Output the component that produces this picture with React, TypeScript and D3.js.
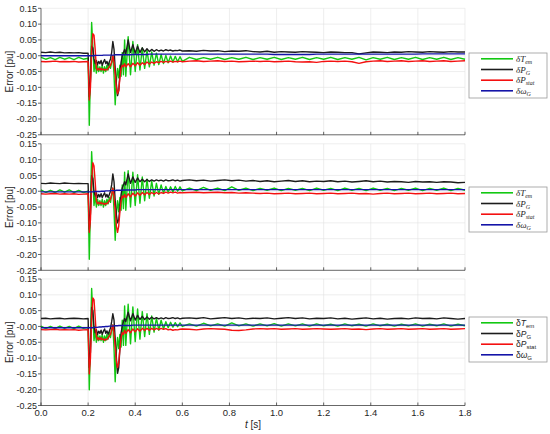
import React from "react";
import * as d3 from "d3";

// time base [s], shared by every trace
const T = [
  0, 0.02, 0.04, 0.06, 0.08, 0.1, 0.12, 0.14, 0.16, 0.18, 0.2,
  0.205, 0.21, 0.215, 0.22, 0.225, 0.23, 0.235, 0.24, 0.245, 0.25,
  0.255, 0.26, 0.265, 0.27, 0.275, 0.28, 0.285, 0.29, 0.295, 0.3,
  0.305, 0.31, 0.315, 0.32, 0.325, 0.33, 0.335, 0.34, 0.345, 0.35, 0.355, 0.36,
  0.37, 0.38, 0.39, 0.4, 0.41, 0.42, 0.43, 0.44, 0.45, 0.46, 0.47, 0.48, 0.49, 0.5,
  0.51, 0.52, 0.53, 0.54, 0.55, 0.56, 0.57, 0.58, 0.59, 0.6,
  0.63, 0.66, 0.69, 0.72, 0.75, 0.78, 0.81, 0.84, 0.87, 0.9,
  0.93, 0.96, 0.99, 1.02, 1.05, 1.08, 1.11, 1.14, 1.17, 1.2,
  1.23, 1.26, 1.29, 1.32, 1.35, 1.38, 1.41, 1.44, 1.47, 1.5,
  1.53, 1.56, 1.59, 1.62, 1.65, 1.68, 1.71, 1.74, 1.77, 1.8,
];

// ---- panel 1
const tem1 = [
  -0.005, -0.011, -0.006, -0.012, -0.005, -0.011, -0.006, -0.012, -0.005, -0.011, -0.008,
  -0.22, -0.06, 0.105, 0.03, -0.05, -0.02, -0.055, -0.03, -0.05, -0.035,
  -0.05, -0.03, -0.055, -0.035, -0.05, -0.03, -0.045, -0.025, -0.04, -0.02,
  0.0, -0.06, -0.155, -0.08, -0.04, -0.07, -0.03, -0.065, 0.01, -0.06, 0.05, -0.065,
  0.06, -0.06, 0.045, -0.05, 0.035, -0.045, 0.025, -0.04, 0.018, -0.035, 0.012, -0.03, 0.008, -0.028,
  0.004, -0.025, 0.001, -0.022, -0.001, -0.02, -0.002, -0.019, -0.003, -0.018,
  -0.005, -0.012, -0.006, -0.011, -0.005, -0.012, -0.006, -0.011, -0.005, -0.012,
  -0.006, -0.011, -0.005, -0.012, -0.006, -0.011, -0.005, -0.012, -0.006, -0.011,
  -0.005, -0.012, -0.006, -0.011, -0.005, -0.013, -0.006, -0.011, -0.005, -0.012,
  -0.006, -0.011, -0.005, -0.012, -0.006, -0.011, -0.005, -0.012, -0.006, -0.011,
];
const pg1 = [
  0.011, 0.01, 0.012, 0.01, 0.011, 0.009, 0.01, 0.009, 0.01, 0.008, 0.008,
  -0.13, -0.08, 0.03, 0.025, -0.01, -0.025, -0.015, -0.028, -0.018, -0.025,
  -0.015, -0.03, -0.02, -0.012, -0.025, -0.018, -0.03, -0.02, -0.01, 0.01,
  0.045, 0.02, -0.04, -0.09, -0.126, -0.11, -0.06, -0.02, 0.0, 0.01, 0.02, 0.005,
  0.05, 0.01, 0.035, 0.008, 0.03, 0.01, 0.025, 0.012, 0.022, 0.013, 0.02, 0.014, 0.019, 0.015,
  0.018, 0.015, 0.019, 0.016, 0.018, 0.015, 0.017, 0.016, 0.018, 0.015,
  0.016, 0.014, 0.017, 0.015, 0.016, 0.013, 0.015, 0.014, 0.016, 0.013,
  0.012, 0.014, 0.011, 0.013, 0.012, 0.011, 0.013, 0.012, 0.011, 0.01,
  0.012, 0.011, 0.01, 0.01, 0.006, 0.009, 0.012, 0.011, 0.01, 0.012,
  0.011, 0.013, 0.012, 0.011, 0.013, 0.012, 0.011, 0.013, 0.012, 0.012,
];
const pstat1 = [
  -0.018, -0.019, -0.018, -0.017, -0.019, -0.018, -0.019, -0.018, -0.02, -0.019, -0.018,
  -0.14, -0.1, 0.02, 0.07, 0.065, 0.02, -0.04, -0.045, -0.04, -0.045,
  -0.04, -0.045, -0.042, -0.046, -0.043, -0.045, -0.04, -0.035, -0.03, -0.02,
  0.0, -0.02, -0.06, -0.1, -0.12, -0.11, -0.07, -0.04, -0.03, -0.035, -0.025, -0.035,
  -0.025, -0.035, -0.024, -0.032, -0.022, -0.03, -0.022, -0.028, -0.02, -0.026, -0.02, -0.024, -0.019, -0.022,
  -0.018, -0.021, -0.018, -0.02, -0.017, -0.02, -0.018, -0.019, -0.017, -0.019,
  -0.017, -0.016, -0.018, -0.017, -0.016, -0.018, -0.017, -0.019, -0.018, -0.017,
  -0.018, -0.017, -0.019, -0.018, -0.017, -0.019, -0.02, -0.019, -0.021, -0.018,
  -0.017, -0.018, -0.017, -0.019, -0.024, -0.019, -0.017, -0.016, -0.018, -0.017,
  -0.016, -0.018, -0.017, -0.016, -0.018, -0.017, -0.016, -0.018, -0.017, -0.016,
];
const wg1 = [
  0, 0, 0, 0, 0, 0, 0, 0, 0, 0, 0,
  0, 0, 0, 0, 0, 0.001, 0.001, 0.001, 0.001, 0.001,
  0.001, 0.001, 0.002, 0.002, 0.002, 0.002, 0.002, 0.002, 0.002, 0.002,
  0.002, 0.002, 0.003, 0.003, 0.003, 0.003, 0.003, 0.003, 0.003, 0.003, 0.003, 0.003,
  0.003, 0.003, 0.004, 0.004, 0.004, 0.004, 0.004, 0.004, 0.004, 0.005, 0.005, 0.005, 0.005, 0.005,
  0.005, 0.005, 0.005, 0.005, 0.005, 0.005, 0.005, 0.005, 0.005, 0.005,
  0.005, 0.005, 0.005, 0.005, 0.005, 0.005, 0.005, 0.005, 0.005, 0.005,
  0.005, 0.005, 0.004, 0.004, 0.004, 0.004, 0.004, 0.004, 0.005, 0.005,
  0.005, 0.005, 0.005, 0.005, 0.005, 0.005, 0.005, 0.005, 0.005, 0.005,
  0.005, 0.005, 0.005, 0.006, 0.006, 0.006, 0.006, 0.006, 0.006, 0.006,
];

// ---- panel 2
const tem2 = [
  0.004, -0.004, 0.003, -0.004, 0.004, -0.003, 0.004, -0.004, 0.003, -0.004, 0.0,
  -0.215, -0.05, 0.125, 0.04, -0.045, -0.015, -0.05, -0.025, -0.045, -0.03,
  -0.045, -0.025, -0.05, -0.03, -0.045, -0.025, -0.04, -0.02, -0.035, -0.01,
  0.01, -0.06, -0.155, -0.07, -0.03, -0.065, -0.02, -0.06, 0.02, -0.055, 0.06, -0.06,
  0.065, -0.05, 0.06, -0.045, 0.052, -0.038, 0.045, -0.03, 0.038, -0.022, 0.032, -0.015, 0.025, -0.01,
  0.02, -0.006, 0.015, -0.003, 0.014, -0.002, 0.015, 0.0, 0.014, 0.001,
  0.01, 0.002, 0.012, 0.003, 0.01, 0.002, 0.014, 0.003, 0.01, 0.002,
  0.009, 0.003, 0.01, 0.002, 0.009, 0.003, 0.009, 0.002, 0.01, 0.003,
  0.009, 0.002, 0.01, 0.003, 0.009, 0.002, 0.01, 0.003, 0.009, 0.002,
  0.009, 0.003, 0.01, 0.002, 0.009, 0.003, 0.01, 0.002, 0.009, 0.003,
];
const pg2 = [
  0.025, 0.024, 0.026, 0.025, 0.024, 0.026, 0.025, 0.024, 0.025, 0.024, 0.024,
  -0.12, -0.07, 0.05, 0.04, 0.0, -0.015, -0.005, -0.02, -0.01, -0.018,
  -0.008, -0.02, -0.012, -0.005, -0.018, -0.01, -0.02, -0.01, 0.0, 0.02,
  0.055, 0.03, -0.03, -0.075, -0.1, -0.09, -0.05, -0.01, 0.01, 0.02, 0.03, 0.02,
  0.055, 0.025, 0.045, 0.028, 0.042, 0.03, 0.038, 0.03, 0.037, 0.031, 0.036, 0.032, 0.036, 0.033,
  0.035, 0.032, 0.036, 0.033, 0.034, 0.036, 0.033, 0.035, 0.032, 0.034,
  0.036, 0.033, 0.035, 0.032, 0.034, 0.036, 0.033, 0.035, 0.032, 0.034,
  0.031, 0.033, 0.03, 0.032, 0.034, 0.031, 0.033, 0.03, 0.032, 0.031,
  0.033, 0.03, 0.032, 0.029, 0.031, 0.033, 0.03, 0.032, 0.029, 0.031,
  0.03, 0.028, 0.031, 0.029, 0.03, 0.028, 0.03, 0.029, 0.027, 0.028,
];
const pstat2 = [
  -0.008, -0.009, -0.008, -0.007, -0.009, -0.008, -0.009, -0.008, -0.01, -0.009, -0.008,
  -0.13, -0.09, 0.03, 0.09, 0.08, 0.03, -0.03, -0.04, -0.035, -0.04,
  -0.035, -0.04, -0.038, -0.042, -0.038, -0.04, -0.035, -0.03, -0.025, -0.01,
  0.01, -0.015, -0.06, -0.11, -0.13, -0.11, -0.065, -0.03, -0.015, -0.02, -0.01, -0.02,
  -0.008, -0.018, -0.006, -0.015, -0.005, -0.013, -0.004, -0.011, -0.004, -0.01, -0.004, -0.009, -0.004, -0.008,
  -0.004, -0.007, -0.003, -0.006, -0.003, -0.005, -0.003, -0.006, -0.004, -0.005,
  -0.004, -0.003, -0.005, -0.004, -0.003, -0.005, -0.004, -0.006, -0.005, -0.006,
  -0.007, -0.006, -0.008, -0.007, -0.006, -0.008, -0.007, -0.006, -0.008, -0.007,
  -0.006, -0.008, -0.007, -0.006, -0.008, -0.007, -0.009, -0.007, -0.006, -0.008,
  -0.007, -0.006, -0.008, -0.007, -0.006, -0.008, -0.007, -0.006, -0.008, -0.007,
];
const wg2 = [
  -0.002, -0.002, -0.002, -0.002, -0.002, -0.002, -0.002, -0.002, -0.002, -0.002, -0.002,
  -0.002, -0.002, -0.002, -0.002, -0.001, -0.001, -0.001, -0.001, -0.001, -0.001,
  0, 0, 0, 0, 0.001, 0.001, 0.001, 0.001, 0.002, 0.002,
  0.002, 0.002, 0.002, 0.003, 0.003, 0.003, 0.003, 0.003, 0.003, 0.004, 0.004, 0.004,
  0.004, 0.004, 0.004, 0.004, 0.005, 0.005, 0.005, 0.005, 0.005, 0.005, 0.005, 0.005, 0.005, 0.005,
  0.005, 0.005, 0.005, 0.005, 0.005, 0.005, 0.005, 0.005, 0.005, 0.005,
  0.005, 0.005, 0.005, 0.005, 0.005, 0.005, 0.005, 0.005, 0.005, 0.005,
  0.005, 0.005, 0.005, 0.005, 0.005, 0.005, 0.005, 0.005, 0.005, 0.005,
  0.005, 0.005, 0.005, 0.005, 0.005, 0.005, 0.005, 0.005, 0.005, 0.005,
  0.005, 0.005, 0.005, 0.005, 0.005, 0.005, 0.005, 0.005, 0.005, 0.005,
];

// ---- panel 3
const tem3 = [
  0.001, -0.007, 0.0, -0.007, 0.001, -0.006, 0.0, -0.007, 0.001, -0.006, -0.003,
  -0.2, -0.05, 0.12, 0.04, -0.045, -0.015, -0.05, -0.025, -0.045, -0.03,
  -0.045, -0.025, -0.05, -0.03, -0.045, -0.025, -0.04, -0.02, -0.035, -0.01,
  0.005, -0.07, -0.175, -0.08, -0.035, -0.07, -0.025, -0.065, 0.02, -0.06, 0.065, -0.06,
  0.07, -0.055, 0.062, -0.048, 0.055, -0.04, 0.047, -0.032, 0.04, -0.025, 0.033, -0.018, 0.026, -0.012,
  0.02, -0.008, 0.015, -0.004, 0.013, -0.002, 0.012, -0.001, 0.011, 0.0,
  0.008, 0.001, 0.01, 0.002, 0.008, 0.001, 0.011, 0.002, 0.008, 0.001,
  0.008, 0.002, 0.009, 0.001, 0.008, 0.002, 0.008, 0.001, 0.008, 0.002,
  0.007, 0.001, 0.008, 0.002, 0.007, 0.001, 0.008, 0.002, 0.007, 0.001,
  0.007, 0.002, 0.008, 0.001, 0.007, 0.002, 0.008, 0.001, 0.007, 0.002,
];
const pg3 = [
  0.025, 0.026, 0.024, 0.025, 0.026, 0.024, 0.025, 0.026, 0.025, 0.024, 0.025,
  -0.13, -0.08, 0.06, 0.05, 0.0, -0.02, -0.01, -0.025, -0.015, -0.022,
  -0.012, -0.025, -0.015, -0.008, -0.022, -0.014, -0.025, -0.015, -0.005, 0.015,
  0.04, 0.02, -0.04, -0.1, -0.148, -0.13, -0.07, -0.02, 0.0, 0.015, 0.025, 0.015,
  0.045, 0.018, 0.04, 0.02, 0.035, 0.022, 0.032, 0.022, 0.03, 0.023, 0.029, 0.024, 0.028, 0.024,
  0.027, 0.024, 0.028, 0.025, 0.026, 0.028, 0.025, 0.027, 0.024, 0.026,
  0.027, 0.025, 0.028, 0.024, 0.026, 0.028, 0.025, 0.027, 0.024, 0.026,
  0.025, 0.027, 0.024, 0.026, 0.028, 0.025, 0.027, 0.024, 0.026, 0.025,
  0.027, 0.024, 0.026, 0.023, 0.025, 0.027, 0.024, 0.026, 0.023, 0.025,
  0.026, 0.024, 0.027, 0.025, 0.026, 0.024, 0.027, 0.025, 0.023, 0.025,
];
const pstat3 = [
  -0.01, -0.011, -0.01, -0.009, -0.011, -0.01, -0.011, -0.01, -0.012, -0.011, -0.01,
  -0.15, -0.1, 0.03, 0.09, 0.085, 0.03, -0.03, -0.042, -0.036, -0.042,
  -0.036, -0.042, -0.04, -0.044, -0.04, -0.042, -0.036, -0.03, -0.025, -0.01,
  0.005, -0.02, -0.065, -0.11, -0.13, -0.115, -0.07, -0.035, -0.02, -0.025, -0.012, -0.022,
  -0.01, -0.02, -0.008, -0.017, -0.007, -0.015, -0.006, -0.013, -0.006, -0.012, -0.006, -0.011, -0.006, -0.01,
  -0.006, -0.009, -0.007, -0.011, -0.009, -0.012, -0.01, -0.011, -0.009, -0.008,
  -0.009, -0.011, -0.008, -0.007, -0.008, -0.009, -0.012, -0.013, -0.011, -0.008,
  -0.007, -0.008, -0.007, -0.009, -0.008, -0.007, -0.009, -0.008, -0.007, -0.008,
  -0.009, -0.008, -0.007, -0.009, -0.008, -0.01, -0.008, -0.007, -0.009, -0.008,
  -0.007, -0.009, -0.008, -0.007, -0.009, -0.008, -0.007, -0.009, -0.008, -0.007,
];
const wg3 = [
  -0.004, -0.004, -0.004, -0.004, -0.004, -0.004, -0.004, -0.004, -0.004, -0.004, -0.004,
  -0.004, -0.004, -0.004, -0.004, -0.003, -0.003, -0.003, -0.003, -0.002, -0.002,
  -0.002, -0.001, -0.001, -0.001, 0, 0, 0, 0.001, 0.001, 0.001,
  0.001, 0.002, 0.002, 0.002, 0.002, 0.003, 0.003, 0.003, 0.003, 0.003, 0.003, 0.003,
  0.003, 0.003, 0.004, 0.004, 0.004, 0.004, 0.004, 0.004, 0.004, 0.004, 0.004, 0.004, 0.004, 0.004,
  0.004, 0.004, 0.004, 0.004, 0.004, 0.004, 0.004, 0.004, 0.004, 0.004,
  0.004, 0.004, 0.004, 0.004, 0.004, 0.004, 0.004, 0.004, 0.004, 0.004,
  0.004, 0.004, 0.004, 0.004, 0.004, 0.004, 0.004, 0.004, 0.004, 0.004,
  0.004, 0.004, 0.004, 0.004, 0.004, 0.004, 0.004, 0.004, 0.004, 0.004,
  0.004, 0.004, 0.004, 0.004, 0.004, 0.004, 0.004, 0.004, 0.004, 0.004,
];

const xTicks = [0, 0.2, 0.4, 0.6, 0.8, 1.0, 1.2, 1.4, 1.6, 1.8];
const xTickLabels = ["0.0", "0.2", "0.4", "0.6", "0.8", "1.0", "1.2", "1.4", "1.6", "1.8"];
const yTicks = [0.15, 0.1, 0.05, 0, -0.05, -0.1, -0.15, -0.2, -0.25];
const yTickLabels = ["0.15", "0.10", "0.05", "-0.00", "-0.05", "-0.10", "-0.15", "-0.20", "-0.25"];

const legendSym = ["T", "P", "P", "ω"];
const legendSub = ["em", "G", "stat", "G"];
const colors = ["#12c812", "#1c1c1c", "#f41010", "#1414a8"];

const panels = [
  { series: [tem1, pg1, pstat1, wg1], serif: true },
  { series: [tem2, pg2, pstat2, wg2], serif: true },
  { series: [tem3, pg3, pstat3, wg3], serif: false },
];

const W = 550;
const H = 434;
const left = 41;
const right = 465;
const tops = [8.3, 143.8, 279];
const ph = 126.5;
const legX = 469;
const legW = 78;
const legH = 45;
const legTops = [53, 187, 317];
const legRows = [5.8, 16.5, 27.2, 37.8];
const ink = "#262626";
const sans = "'Liberation Sans', Arial, Helvetica, sans-serif";
const serif = "'Liberation Serif', 'Times New Roman', serif";

const x = d3.scaleLinear().domain([0, 1.8]).range([left, right]);

function Panel({ k }: { k: number }) {
  const top = tops[k];
  const bottom = top + ph;
  const y = d3.scaleLinear().domain([-0.25, 0.15]).range([bottom, top]);
  const line = d3
    .line<number>()
    .defined((_, i) => i < T.length)
    .x((_, i) => x(T[i]))
    .y((d) => y(d));
  const p = panels[k];
  const lt = legTops[k];
  return (
    <g>
      {/* grid */}
      <g stroke="#e2e2e2" strokeWidth={0.6}>
        {xTicks.slice(1).map((t) => (
          <line key={"gx" + t} x1={x(t)} x2={x(t)} y1={top} y2={bottom} />
        ))}
        {yTicks.slice(0, -1).map((v) => (
          <line key={"gy" + v} x1={left} x2={right} y1={y(v)} y2={y(v)} />
        ))}
      </g>
      {/* traces */}
      {p.series.map((s, j) => (
        <path key={j} d={line(s) || ""} fill="none" stroke={colors[j]} strokeWidth={1.4} strokeLinejoin="round" />
      ))}
      {/* axes */}
      <g stroke={ink} strokeWidth={0.7}>
        <line x1={left} x2={left} y1={top} y2={bottom} />
        <line x1={left} x2={right} y1={bottom} y2={bottom} />
        {yTicks.map((v) => (
          <line key={"ty" + v} x1={left - 3} x2={left} y1={y(v)} y2={y(v)} />
        ))}
        {xTicks.map((t) => (
          <line key={"tx" + t} x1={x(t)} x2={x(t)} y1={bottom} y2={bottom - 3} />
        ))}
      </g>
      <g fontFamily={sans} fontSize={9} fill={ink} textAnchor="end">
        {yTicks.map((v, i) => (
          <text key={"ly" + v} x={left - 4} y={y(v) + 3.2}>
            {yTickLabels[i]}
          </text>
        ))}
      </g>
      <text
        transform={`translate(13,${(top + bottom) / 2}) rotate(-90)`}
        textAnchor="middle"
        fontFamily={sans}
        fontSize={10}
        fill={ink}
      >
        Error [pu]
      </text>
      {k === 2 && (
        <g fontFamily={sans} fontSize={9.5} fill={ink} textAnchor="middle">
          {xTicks.map((t, i) => (
            <text key={"lx" + t} x={x(t)} y={bottom + 10}>
              {xTickLabels[i]}
            </text>
          ))}
          <text x={(left + right) / 2} y={bottom + 22} fontSize={10}>
            <tspan fontStyle="italic">t</tspan> [s]
          </text>
        </g>
      )}
      {/* legend */}
      <rect x={legX} y={lt} width={legW} height={legH} fill="#fff" stroke="#9a9a9a" strokeWidth={0.8} />
      {legendSym.map((sym, j) => {
        const ly = lt + legRows[j];
        return (
          <g key={"lg" + j}>
            <line x1={481} x2={513} y1={ly} y2={ly} stroke={colors[j]} strokeWidth={1.6} />
            <text
              x={516}
              y={ly + 3}
              fontFamily={p.serif ? serif : sans}
              fontSize={p.serif ? 9 : 8.5}
              fontStyle={p.serif ? "italic" : "normal"}
              fill={ink}
            >
              δ<tspan fontStyle="italic">{sym}</tspan>
              <tspan fontSize={6} dy={2}>
                {legendSub[j]}
              </tspan>
            </text>
          </g>
        );
      })}
    </g>
  );
}

export default function App() {
  return (
    <svg
      width={W}
      height={H}
      viewBox={`0 0 ${W} ${H}`}
      style={{ position: "absolute", left: 0, top: 0, display: "block" }}
    >
      <rect width={W} height={H} fill="#fff" />
      {panels.map((_, k) => (
        <Panel key={k} k={k} />
      ))}
    </svg>
  );
}
